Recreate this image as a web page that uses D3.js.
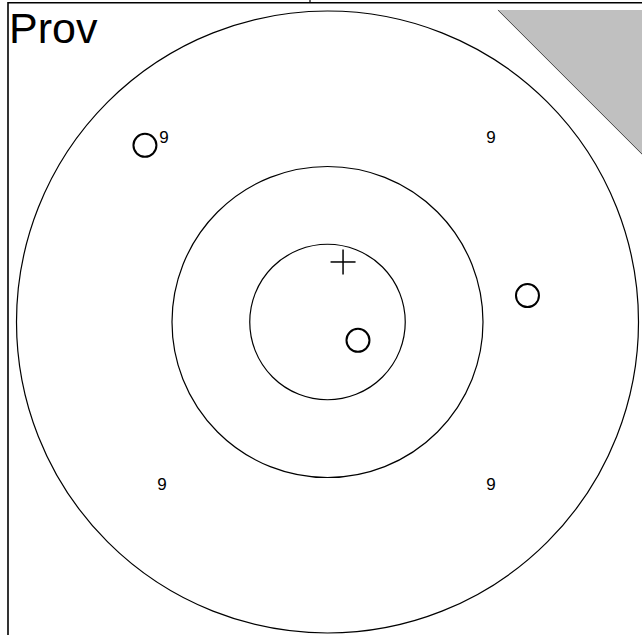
<!DOCTYPE html>
<html>
<head>
<meta charset="utf-8">
<script src="https://cdn.jsdelivr.net/npm/d3@7"></script>
<style>
  html, body { margin: 0; padding: 0; background: #fff; }
  svg { display: block; font-family: "Liberation Sans", Arial, sans-serif; }
</style>
</head>
<body>
<svg id="chart" width="642" height="635"></svg>
<script>
// rings (unit radius), points and labels in unit coordinates (y up)
const rings = [0.25, 0.5, 1.0];
const circlePts = [[-0.587, 0.568], [0.643, 0.085], [0.098, -0.059]];
const plusPts = [[0.050, 0.193]];
const labels = [
	{ x: -0.526, y: 0.594, t: "9" },
	{ x: 0.526, y: 0.594, t: "9" },
	{ x: -0.532, y: -0.524, t: "9" },
	{ x: 0.526, y: -0.524, t: "9" }
];
const shade = [[0.548, 1.003], [1.06, 1.003], [1.06, 0.491]];
const title = "Prov";

const W = 642, H = 635;
const cx = 327.5, cy = 322, R = 311;

const svg = d3.select("#chart");
const x = d3.scaleLinear().domain([-1, 1]).range([cx - R, cx + R]);
const y = d3.scaleLinear().domain([-1, 1]).range([cy + R, cy - R]);
const r = d3.scaleLinear().domain([0, 1]).range([0, R]);

// grey corner
svg.append("path")
	.attr("d", "M" + shade.map(d => [x(d[0]), y(d[1])].join(",")).join("L") + "Z")
	.attr("fill", "#c0c0c0");
svg.append("line")
	.attr("x1", x(shade[0][0])).attr("y1", y(shade[0][1]))
	.attr("x2", x(shade[2][0])).attr("y2", y(shade[2][1]))
	.attr("stroke", "#444").attr("stroke-width", 1);

// rings
svg.append("g").selectAll("circle").data(rings).join("circle")
	.attr("cx", x(0)).attr("cy", y(0))
	.attr("r", d => r(d))
	.attr("fill", "none").attr("stroke", "#000").attr("stroke-width", 1.2);

// frame
svg.append("line").attr("x1", 8).attr("y1", 2.7).attr("x2", W).attr("y2", 2.7)
	.attr("stroke", "#000").attr("stroke-width", 1.6);
svg.append("line").attr("x1", 8).attr("y1", 2).attr("x2", 8).attr("y2", H)
	.attr("stroke", "#000").attr("stroke-width", 1.6);
svg.append("line").attr("x1", 310).attr("y1", 0).attr("x2", 310).attr("y2", 3)
	.attr("stroke", "#000").attr("stroke-width", 1.2);

// labels
svg.append("g").selectAll("text").data(labels).join("text")
	.attr("x", d => x(d.x)).attr("y", d => y(d.y))
	.attr("text-anchor", "middle").attr("dominant-baseline", "central")
	.attr("font-size", "17px").attr("fill", "#000")
	.text(d => d.t);

// open circles
svg.append("g").selectAll("circle").data(circlePts).join("circle")
	.attr("cx", d => x(d[0])).attr("cy", d => y(d[1]))
	.attr("r", 11.5)
	.attr("fill", "none").attr("stroke", "#000").attr("stroke-width", 2);

// plus marks
const pg = svg.append("g").attr("stroke", "#000").attr("stroke-width", 1.5);
plusPts.forEach(d => {
	const px = x(d[0]), py = y(d[1]);
	pg.append("line").attr("x1", px - 12.5).attr("y1", py).attr("x2", px + 12.5).attr("y2", py);
	pg.append("line").attr("x1", px).attr("y1", py - 12.5).attr("x2", px).attr("y2", py + 12.5);
});

svg.append("text").attr("x", 9).attr("y", 43)
	.attr("font-size", "43px").attr("fill", "#000")
	.text(title);
</script>
</body>
</html>
